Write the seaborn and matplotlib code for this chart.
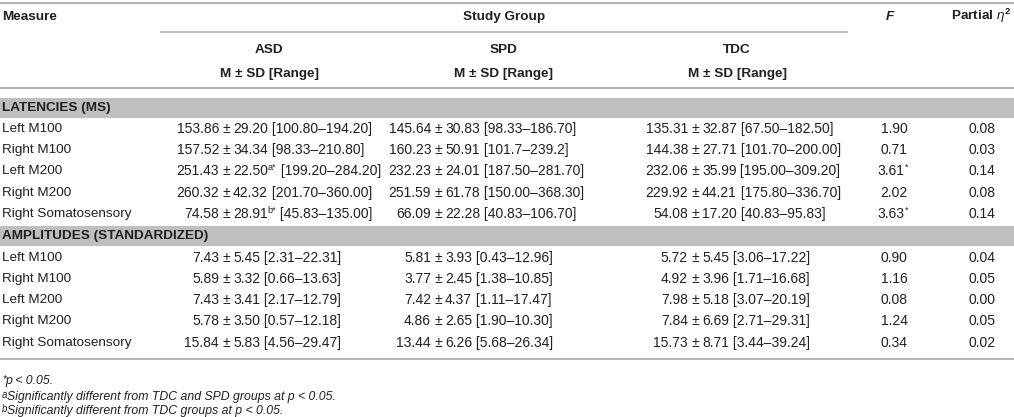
import matplotlib
matplotlib.use("Agg")
import matplotlib.pyplot as plt
import seaborn as sns

sns.set_theme(style="white")
plt.rcParams['font.family'] = ['Liberation Sans', 'DejaVu Sans']
plt.rcParams['mathtext.fontset'] = 'custom'
plt.rcParams['mathtext.rm'] = 'Liberation Sans'
plt.rcParams['mathtext.it'] = 'Liberation Sans:italic'
plt.rcParams['mathtext.bf'] = 'Liberation Sans:bold'

# ---------------- data ----------------
sections = ["LATENCIES (MS)", "AMPLITUDES (STANDARDIZED)"]
measures = ["Left M100", "Right M100", "Left M200", "Right M200", "Right Somatosensory"]
groups = ["ASD", "SPD", "TDC"]

asd_mean = ["153.86", "157.52", "251.43", "260.32", "74.58",
            "7.43", "5.89", "7.43", "5.78", "15.84"]
asd_sd = ["29.20", "34.34", "22.50", "42.32", "28.91",
          "5.45", "3.32", "3.41", "3.50", "5.83"]
asd_range = ["100.80–194.20", "98.33–210.80", "199.20–284.20", "201.70–360.00", "45.83–135.00",
             "2.31–22.31", "0.66–13.63", "2.17–12.79", "0.57–12.18", "4.56–29.47"]
asd_sup = ["", "", "a*", "", "b*", "", "", "", "", ""]

spd_mean = ["145.64", "160.23", "232.23", "251.59", "66.09",
            "5.81", "3.77", "7.42", "4.86", "13.44"]
spd_sd = ["30.83", "50.91", "24.01", "61.78", "22.28",
          "3.93", "2.45", "4.37", "2.65", "6.26"]
spd_range = ["98.33–186.70", "101.7–239.2", "187.50–281.70", "150.00–368.30", "40.83–106.70",
             "0.43–12.96", "1.38–10.85", "1.11–17.47", "1.90–10.30", "5.68–26.34"]

tdc_mean = ["135.31", "144.38", "232.06", "229.92", "54.08",
            "5.72", "4.92", "7.98", "7.84", "15.73"]
tdc_sd = ["32.87", "27.71", "35.99", "44.21", "17.20",
          "5.45", "3.96", "5.18", "6.69", "8.71"]
tdc_range = ["67.50–182.50", "101.70–200.00", "195.00–309.20", "175.80–336.70", "40.83–95.83",
             "3.06–17.22", "1.71–16.68", "3.07–20.19", "2.71–29.31", "3.44–39.24"]

f_values = ["1.90", "0.71", "3.61", "2.02", "3.63", "0.90", "1.16", "0.08", "1.24", "0.34"]
f_sup = ["", "", "*", "", "*", "", "", "", "", ""]
eta_values = ["0.08", "0.03", "0.14", "0.08", "0.14", "0.04", "0.05", "0.00", "0.05", "0.02"]

footnotes = [("*", "p < 0.05."),
             ("a", "Significantly different from TDC and SPD groups at p < 0.05."),
             ("b", "Significantly different from TDC groups at p < 0.05.")]

# ---------------- layout ----------------
W, H = 1014, 417
TXT = "#231f20"
LINE = "#b4b4b4"
BAND = "#bdbfc1"
FS = 9.7
CFS = 10.0
SUPFS = 6.6

fig = plt.figure(figsize=(W / 100, H / 100), dpi=100)
ax = fig.add_axes([0, 0, 1, 1])
ax.set_xlim(0, W)
ax.set_ylim(H, 0)
ax.axis("off")

px = 0.72  # points per pixel

# rules
ax.plot([0, W], [2.5, 2.5], color=LINE, lw=2 * px, solid_capstyle="butt")
ax.plot([160, 848], [32, 32], color=LINE, lw=1.6 * px, solid_capstyle="butt")
ax.plot([0, W], [88, 88], color=LINE, lw=2 * px, solid_capstyle="butt")
ax.plot([0, W], [359, 359], color=LINE, lw=2 * px, solid_capstyle="butt")

# header
hb = dict(color=TXT, fontsize=FS, fontweight="bold", va="center")
ax.text(2, 17, "Measure", ha="left", **hb)
ax.text(504, 17, "Study Group", ha="center", **hb)
ax.text(890, 17, "F", ha="center", fontstyle="italic", **hb)
ax.text(981, 16, r"Partial $\eta^{\mathbf{2}}$", ha="center", **hb)
group_x = [269, 503, 737]
for g, gx in zip(groups, group_x):
    ax.text(gx, 50, g, ha="center", **hb)
    ax.text(gx, 74, "M ± SD [Range]", ha="center", **hb)

# section bands
band_rows = [(97.5, 118, 107.5), (226, 246, 236)]
for (y0, y1, yt), s in zip(band_rows, sections):
    ax.fill_between([0, W], y0, y1, color=BAND, lw=0)
    ax.text(2, yt, s, ha="left", **hb)

row_y = [129, 150, 171, 193, 214, 258, 279, 300, 321, 343]
pm_x = [226, 438, 695]
GAP = 7
f_x = 894
eta_x = 982

body = dict(color=TXT, fontsize=CFS)


def chain(prev, base, s, sup=False, **kw):
    if sup:
        return ax.annotate(s, xy=(1, 0.42), xycoords=prev, ha="left", va="bottom",
                           fontsize=SUPFS, color=TXT, **kw)
    return ax.annotate(s, xy=(1, 0), xycoords=(prev, base), ha="left", va="bottom",
                       **body, **kw)


def cell(px_, y, mean, sd, rng, sup=""):
    ax.text(px_ - GAP, y, mean, ha="right", va="center", **body)
    ax.text(px_, y, "±", ha="center", va="center", **body)
    base = ax.text(px_ + GAP, y, sd, ha="left", va="center", **body)
    prev = base
    if sup:
        prev = chain(base, base, sup, sup=True)
    chain(prev, base, " [" + rng + "]")


for i, y in enumerate(row_y):
    ax.text(2, y, measures[i % len(measures)], ha="left", va="center",
            color=TXT, fontsize=FS)
    cell(pm_x[0], y, asd_mean[i], asd_sd[i], asd_range[i], asd_sup[i])
    cell(pm_x[1], y, spd_mean[i], spd_sd[i], spd_range[i])
    cell(pm_x[2], y, tdc_mean[i], tdc_sd[i], tdc_range[i])
    if f_sup[i]:
        t = ax.text(f_x - 3, y, f_values[i], ha="center", va="center", **body)
        chain(t, t, f_sup[i], sup=True)
    else:
        ax.text(f_x, y, f_values[i], ha="center", va="center", **body)
    ax.text(eta_x, y, eta_values[i], ha="center", va="center", **body)

# footnotes
foot_y = [382, 398, 412]
for (mark, txt), y in zip(footnotes, foot_y):
    m = ax.text(2, y - 3, mark, ha="left", va="center", fontsize=SUPFS + 0.3,
                color=TXT, fontstyle="italic")
    ax.annotate(txt, xy=(1, 0), xycoords=m, xytext=(0, -2.2), textcoords="offset points",
                ha="left", va="bottom", fontsize=8.8, color=TXT, fontstyle="italic")

fig.savefig("out.png", dpi=100, facecolor="white")
